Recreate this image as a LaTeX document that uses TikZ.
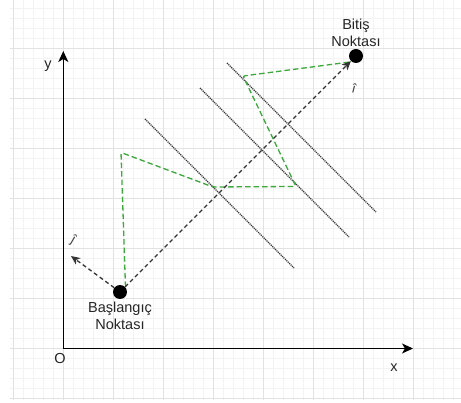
\documentclass[tikz,border=0pt]{standalone}
\usepackage{fontspec}
\setmainfont{Liberation Sans}
\usetikzlibrary{arrows.meta}
\definecolor{gridminor}{HTML}{F3F3F3}
\definecolor{gridmajor}{HTML}{E2E2E2}
\definecolor{dashgreen}{HTML}{3DA83D}
\definecolor{dashgray}{HTML}{333333}
\tikzset{
  x=1pt, y=-1pt,
  axisline/.style={line width=1.4pt, black, -{Stealth[length=11pt,width=10pt,inset=3pt]}},
  dotbox/.style={circle, fill=black, inner sep=0pt, minimum size=14pt},
  lbl/.style={font=\fontsize{14.5}{17}\selectfont, align=center, inner sep=0pt, text=black!85},
  vecarrow/.style={line width=1.3pt, dashgray, dash pattern=on 4pt off 3pt, -{Stealth[length=9pt,width=8pt,inset=2.5pt]}},
  greenpath/.style={line width=1.3pt, dashgreen, dash pattern=on 5.5pt off 3pt, rounded corners=2pt},
  dotline/.style={line width=1.4pt, black!80, dash pattern=on 1.1pt off 0.9pt},
  hatlbl/.style={font=\fontsize{13}{13}\selectfont, inner sep=0pt, text=black!75}
}
\begin{document}
\begin{tikzpicture}
\useasboundingbox (0,0) rectangle (461,403);
\fill[white] (0,0) rectangle (461,403);
% grid
\foreach \k in {0,...,44} {
  \draw[gridminor, line width=0.8pt] ({13.3+10*\k},0) -- ({13.3+10*\k},400);
}
\foreach \k in {0,...,39} {
  \draw[gridminor, line width=0.8pt] (10,{398.5-10*\k}) -- (461,{398.5-10*\k});
}
\foreach \k in {0,...,8} {
  \draw[gridmajor, line width=1pt] ({13.3+50*\k},0) -- ({13.3+50*\k},400);
}
\foreach \k in {0,...,7} {
  \draw[gridmajor, line width=1pt] (10,{398.5-50*\k}) -- (461,{398.5-50*\k});
}
% axes
\coordinate (O) at (63.3,348.5);
\coordinate (ytip) at (63.3,51);
\coordinate (xtip) at (413,348.5);
\draw[axisline] (O) -- (ytip);
\draw[axisline] (O) -- (xtip);
\node[lbl] (ylbl) at (48,66) {y};
\node[lbl] (olbl) at (60,359) {O};
\node[lbl] (xlbl) at (394,368) {x};
% dotted lines
\coordinate (d1a) at (145,119); \coordinate (d1b) at (294,268);
\coordinate (d2a) at (200,88);  \coordinate (d2b) at (349,237);
\coordinate (d3a) at (227,63);  \coordinate (d3b) at (376,212);
\draw[dotline] (d1a) -- (d1b);
\draw[dotline] (d2a) -- (d2b);
\draw[dotline] (d3a) -- (d3b);
% points
\node[dotbox] (s) at (120,292) {};
\node[dotbox] (e) at (356,56) {};
\node[lbl] (slbl) at (120,316) {Başlangıç\\Noktası};
\node[lbl] (elbl) at (356,33) {Bitiş\\Noktası};
% green path
\coordinate (g0) at (125.5,287);
\coordinate (g1) at (121,152.5);
\coordinate (g2) at (213,187);
\coordinate (g3) at (296,186.5);
\coordinate (g4) at (243,76);
\coordinate (g5) at (350,62);
\draw[greenpath] (g0) -- (g1) -- (g2) -- (g3) -- (g4) -- (g5);
% vectors
\coordinate (jtip) at (71,256);
\draw[vecarrow] (s) -- (e);
\draw[vecarrow] (s) -- (jtip);
\node[hatlbl, rotate=-30] (jlbl) at (73,240) {ĵ};
\node[hatlbl, rotate=-15] (ilbl) at (354,88) {î};
\end{tikzpicture}
\end{document}
